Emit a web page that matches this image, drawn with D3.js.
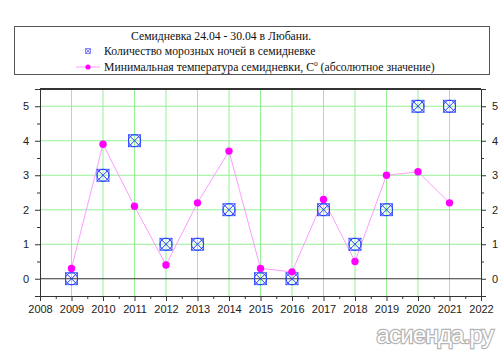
<!DOCTYPE html>
<html>
<head>
<meta charset="utf-8">
<script src="https://cdn.jsdelivr.net/npm/d3@7"></script>
<style>
  body { margin: 0; background: #fff; }
  svg { display: block; }
</style>
</head>
<body>
<div id="chart"></div>
<script>
const years = [2009, 2010, 2011, 2012, 2013, 2014, 2015, 2016, 2017, 2018, 2019, 2020, 2021];
const frostNights = [0, 3, 4, 1, 1, 2, 0, 0, 2, 1, 2, 5, 5];
const minTemp = [0.3, 3.9, 2.1, 0.4, 2.2, 3.7, 0.3, 0.2, 2.3, 0.5, 3.0, 3.1, 2.2];
const xTicks = d3.range(2008, 2023);
const yTicks = [0, 1, 2, 3, 4, 5];

const titleText = "Семидневка 24.04 - 30.04 в Любани.";
const legendFrost = "Количество морозных ночей в семидневке";
const legendTemp = "Минимальная температура семидневки, С";

const width = 500, height = 352;
const margin = {left: 40, right: 19, top: 89, bottom: 56};

const svg = d3.select("#chart").append("svg")
    .attr("width", width)
    .attr("height", height);

const x = d3.scaleLinear().domain([2008, 2022]).range([margin.left, width - margin.right]);
const y = d3.scaleLinear().domain([-0.5, 5.5]).range([height - margin.bottom, margin.top]);

// grid
svg.append("g").selectAll("line")
    .data(years)
    .enter().append("line")
    .attr("x1", d => x(d)).attr("x2", d => x(d))
    .attr("y1", y(5.5)).attr("y2", y(-0.5))
    .attr("stroke", "#95f095").attr("stroke-width", 1);
svg.append("g").selectAll("line")
    .data(yTicks.filter(d => d > 0))
    .enter().append("line")
    .attr("x1", x(2008)).attr("x2", x(2022))
    .attr("y1", d => y(d)).attr("y2", d => y(d))
    .attr("stroke", "#95f095").attr("stroke-width", 1);
svg.append("line")
    .attr("x1", x(2008)).attr("x2", x(2022))
    .attr("y1", y(0)).attr("y2", y(0))
    .attr("stroke", "#333").attr("stroke-width", 1);

// axes
const xAxis = d3.axisBottom(x).tickValues(xTicks).tickFormat(d3.format("d")).tickSize(5).tickPadding(4);
const xMinor = d3.axisBottom(x).tickValues(d3.range(2008.5, 2022, 1)).tickFormat("").tickSize(3);
const yLeft = d3.axisLeft(y).tickValues(yTicks).tickFormat(d3.format("d")).tickSize(5).tickPadding(6);
const yLeftMinor = d3.axisLeft(y).tickValues(d3.range(-0.5, 5.6, 1)).tickFormat("").tickSize(3);
const yRight = d3.axisRight(y).tickValues(yTicks).tickFormat(d3.format("d")).tickSize(5).tickPadding(6);
const yRightMinor = d3.axisRight(y).tickValues(d3.range(-0.5, 5.6, 1)).tickFormat("").tickSize(3);

function styleAxis(g) {
  g.select(".domain").attr("stroke", "#333");
  g.selectAll(".tick line").attr("stroke", "#333");
  g.selectAll("text").attr("font-family", "Liberation Sans, Arial, sans-serif")
    .attr("font-size", 11).attr("fill", "#222");
}

svg.append("g").attr("transform", `translate(0,${y(-0.5)})`).call(xAxis).call(styleAxis);
svg.append("g").attr("transform", `translate(0,${y(-0.5)})`).call(xMinor).call(styleAxis);
svg.append("g").attr("transform", `translate(${x(2008)},0)`).call(yLeft).call(styleAxis);
svg.append("g").attr("transform", `translate(${x(2008)},0)`).call(yLeftMinor).call(styleAxis);
svg.append("g").attr("transform", `translate(${x(2022)},0)`).call(yRight).call(styleAxis);
svg.append("g").attr("transform", `translate(${x(2022)},0)`).call(yRightMinor).call(styleAxis);
svg.append("line")
    .attr("x1", x(2008)).attr("x2", x(2022))
    .attr("y1", y(5.5)).attr("y2", y(5.5))
    .attr("stroke", "#333").attr("stroke-width", 2);

// temperature line
const line = d3.line().x((d, i) => x(years[i])).y(d => y(d));
svg.append("path")
    .datum(minTemp)
    .attr("d", line)
    .attr("fill", "none")
    .attr("stroke", "#ff9cff")
    .attr("stroke-width", 1);

// frost markers
function drawFrostMarker(g, cx, cy, s, col) {
  g.append("rect").attr("x", cx - s).attr("y", cy - s).attr("width", 2 * s).attr("height", 2 * s)
    .attr("fill", "none").attr("stroke", col).attr("stroke-width", 0.8);
  g.append("circle").attr("cx", cx).attr("cy", cy).attr("r", s)
    .attr("fill", "none").attr("stroke", col).attr("stroke-width", 1);
  g.append("path").attr("d", `M${cx - s},${cy - s}L${cx + s},${cy + s}M${cx + s},${cy - s}L${cx - s},${cy + s}`)
    .attr("stroke", col).attr("stroke-width", 1);
}
const frostG = svg.append("g");
frostNights.forEach((v, i) => drawFrostMarker(frostG, x(years[i]), y(v), 6, "#1f3cff"));

svg.append("g").selectAll("circle")
    .data(minTemp)
    .enter().append("circle")
    .attr("cx", (d, i) => x(years[i]))
    .attr("cy", d => y(d))
    .attr("r", 3.7)
    .attr("fill", "#ff00ff");

// legend box
const lg = svg.append("g");
lg.append("rect").attr("x", 14.5).attr("y", 26.5).attr("width", 475).attr("height", 48)
  .attr("fill", "#fff").attr("stroke", "#555").attr("stroke-width", 1);
const serif = "Liberation Serif, Times New Roman, serif";
const fs = 11.7;
lg.append("text").attr("x", 131).attr("y", 39.5).text(titleText)
  .attr("font-family", serif).attr("font-size", fs).attr("fill", "#111");
drawFrostMarker(lg, 88, 51, 2.5, "#8080ff");
lg.append("text").attr("x", 104).attr("y", 55).text(legendFrost)
  .attr("font-family", serif).attr("font-size", fs).attr("fill", "#111");
lg.append("line").attr("x1", 76).attr("x2", 100).attr("y1", 67).attr("y2", 67)
  .attr("stroke", "#ff9cff").attr("stroke-width", 1);
lg.append("circle").attr("cx", 88).attr("cy", 67).attr("r", 2.6).attr("fill", "#ff00ff");
const t2 = lg.append("text").attr("x", 104).attr("y", 71)
  .attr("font-family", serif).attr("font-size", fs).attr("fill", "#111");
t2.append("tspan").text(legendTemp);
t2.append("tspan").text("o").attr("dy", -5).attr("font-size", 7.5);
t2.append("tspan").text(" (абсолютное значение)").attr("dy", 5);

// watermark
const wm = svg.append("g");
wm.append("text").attr("x", 493).attr("y", 343).attr("text-anchor", "end")
  .text("асиенда.ру")
  .attr("font-family", "Liberation Sans Narrow, Arial Narrow, sans-serif")
  .attr("font-size", 24).attr("fill", "#fff")
  .attr("stroke", "#b4b4b4").attr("stroke-width", 2.4)
  .attr("letter-spacing", -0.8);
wm.append("text").attr("x", 493).attr("y", 343).attr("text-anchor", "end")
  .text("асиенда.ру")
  .attr("font-family", "Liberation Sans Narrow, Arial Narrow, sans-serif")
  .attr("font-size", 24).attr("fill", "#fff")
  .attr("letter-spacing", -0.8);
</script>
</body>
</html>
